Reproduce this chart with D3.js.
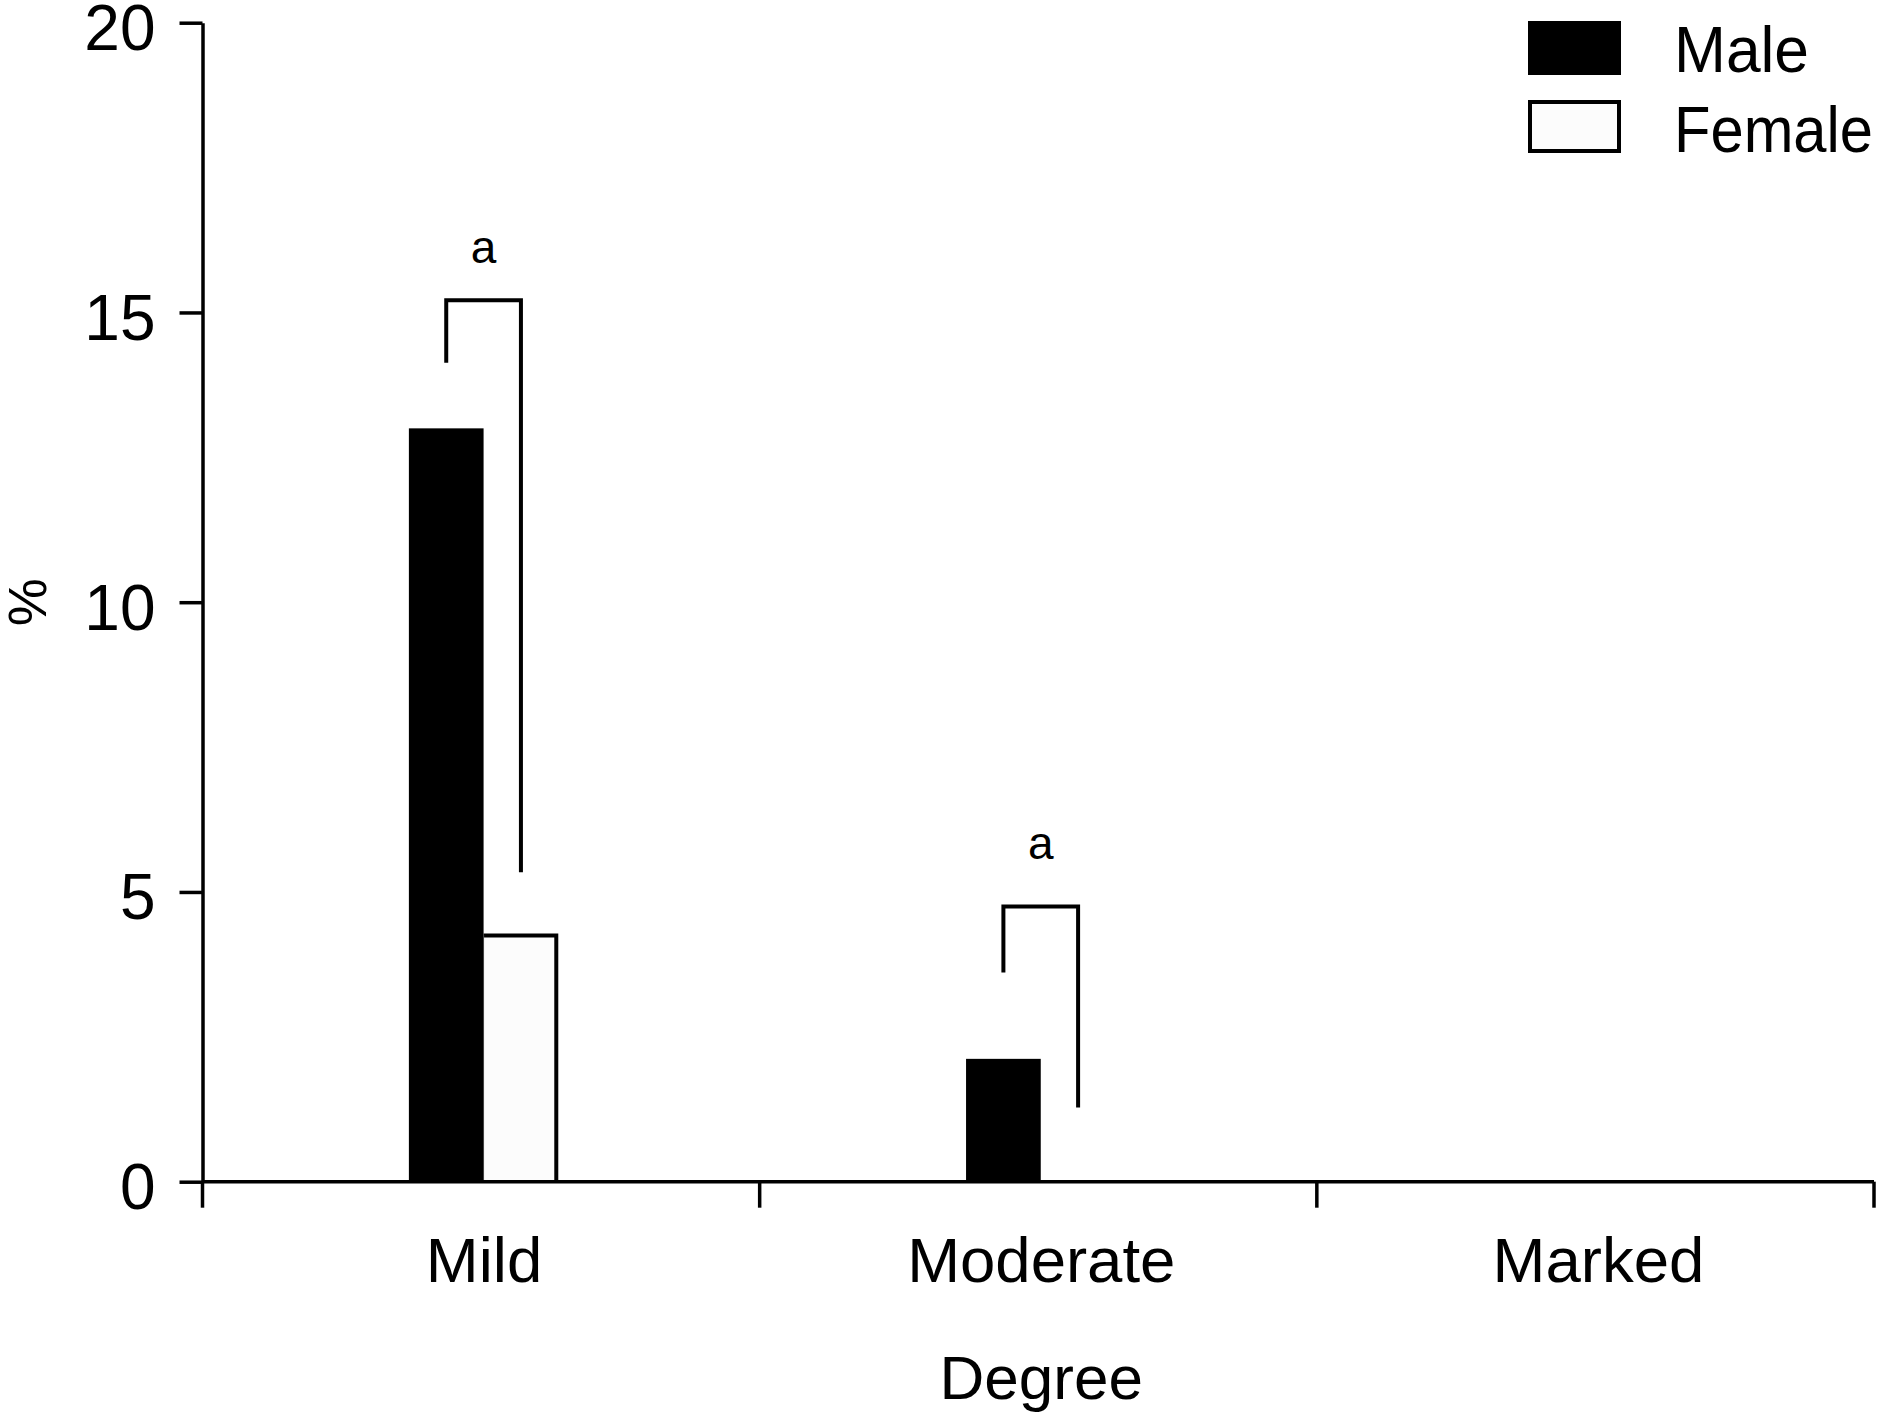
<!DOCTYPE html>
<html>
<head>
<meta charset="utf-8">
<script src="https://cdn.jsdelivr.net/npm/d3@7"></script>
<style>
  html, body { margin: 0; padding: 0; background: #fff; }
  svg { display: block; }
  text { font-family: "Liberation Sans", Arial, sans-serif; fill: #000; }
</style>
</head>
<body>
<svg id="chart" width="1878" height="1416"></svg>
<script>
// ---- data ----
const categories = ["Mild", "Moderate", "Marked"];
const series = ["Male", "Female"];
const maleValues = [13.0, 2.12, 0];
const femaleValues = [4.25, 0, 0];
const yTicks = [0, 5, 10, 15, 20];
const xTitle = "Degree";
const yTitle = "%";
// significance brackets (values in % units)
const sigCategories = ["Mild", "Moderate"];
const sigLabels = ["a", "a"];
const sigTop = [15.21, 4.75];
const sigLeftEnd = [14.13, 3.61];
const sigRightEnd = [5.34, 1.28];
const sigLabelPos = [15.86, 5.56];

// ---- layout ----
const svg = d3.select("#chart");
const x0 = 202.5, x1 = 1874, yTop = 22.7, yBot = 1181.7;

const x = d3.scaleBand().domain(categories).range([x0, x1]).paddingInner(0).paddingOuter(0);
const y = d3.scaleLinear().domain([0, 20]).range([yBot, yTop]);
const half = 74.7;
const shift = 2.5;
const xSub = d3.scaleBand().domain(series)
  .range([x.bandwidth() / 2 + shift - half, x.bandwidth() / 2 + shift + half]);

const valuesBy = { Male: maleValues, Female: femaleValues };
const fills = { Male: "#000000", Female: "#fcfcfc" };

// bars
const rows = categories.map((c, i) => ({ c, i }));
const groups = svg.append("g").selectAll("g").data(rows).join("g")
  .attr("transform", d => `translate(${x(d.c)},0)`);

// Female bars: fill + top/right outline
groups.filter(d => femaleValues[d.i] > 0).each(function(d) {
  const g = d3.select(this);
  const bx = xSub("Female"), bw = xSub.bandwidth();
  const ty = y(femaleValues[d.i]);
  g.append("rect").attr("x", bx).attr("y", ty).attr("width", bw).attr("height", y(0) - ty)
    .attr("fill", fills.Female);
  g.append("path")
    .attr("d", `M${bx},${ty}L${bx + bw - 2},${ty}L${bx + bw - 2},${y(0)}`)
    .attr("fill", "none").attr("stroke", "#000").attr("stroke-width", 4);
  g.append("line").attr("x1", bx).attr("x2", bx).attr("y1", ty).attr("y2", y(0))
    .attr("stroke", "#999").attr("stroke-width", 1);
});
// Male bars
groups.filter(d => maleValues[d.i] > 0).append("rect")
  .attr("x", xSub("Male"))
  .attr("y", d => y(maleValues[d.i]))
  .attr("width", xSub.bandwidth())
  .attr("height", d => y(0) - y(maleValues[d.i]))
  .attr("fill", fills.Male);

// y axis
const yAxis = d3.axisLeft(y).tickValues(yTicks).tickSize(23).tickSizeOuter(0).tickPadding(24);
const gy = svg.append("g").attr("transform", `translate(${x0},0)`).call(yAxis);
gy.select(".domain").attr("stroke-width", 3.5);
gy.selectAll(".tick line").attr("stroke-width", 3.5);
gy.selectAll(".tick text").attr("font-size", 64).attr("dy", "0.42em")
  .style("font-family", '"Liberation Sans", Arial, sans-serif');

// x axis (labels at band centres)
const xAxis = d3.axisBottom(x).tickSize(0).tickSizeOuter(0);
const gx = svg.append("g").attr("transform", `translate(0,${yBot})`).call(xAxis);
gx.select(".domain").remove();
gx.selectAll(".tick text").attr("font-size", 63.5).attr("y", 100).attr("dy", 0)
  .attr("dx", 3)
  .style("font-family", '"Liberation Sans", Arial, sans-serif');
// x axis line and boundary ticks
svg.append("line").attr("x1", x0).attr("x2", x1).attr("y1", yBot).attr("y2", yBot)
  .attr("stroke", "#000").attr("stroke-width", 3.5);
const bounds = categories.map(c => x(c)).concat([x.range()[1]]);
svg.append("g").selectAll("line").data(bounds).join("line")
  .attr("x1", d => d).attr("x2", d => d).attr("y1", yBot).attr("y2", yBot + 26)
  .attr("stroke", "#000").attr("stroke-width", 3.5);

// significance brackets
sigCategories.forEach((c, i) => {
  const lx = x(c) + xSub("Male") + xSub.bandwidth() / 2;
  const rx = x(c) + xSub("Female") + xSub.bandwidth() / 2;
  svg.append("path")
    .attr("d", `M${lx},${y(sigLeftEnd[i])}L${lx},${y(sigTop[i])}L${rx},${y(sigTop[i])}L${rx},${y(sigRightEnd[i])}`)
    .attr("fill", "none").attr("stroke", "#000").attr("stroke-width", 4);
  svg.append("text").attr("x", (lx + rx) / 2).attr("y", y(sigLabelPos[i]))
    .attr("text-anchor", "middle").attr("font-size", 46).text(sigLabels[i]);
});

// axis titles
svg.append("text").attr("x", (x0 + x1) / 2 + 3).attr("y", 1399).attr("text-anchor", "middle")
  .attr("font-size", 62).text(xTitle);
svg.append("text").attr("transform", `translate(46,${(yTop + yBot) / 2}) rotate(-90)`)
  .attr("text-anchor", "middle").attr("font-size", 54).text(yTitle);

// legend
const legend = svg.append("g");
const legendRows = series.map((s, i) => ({ s, i }));
legend.selectAll("rect").data(legendRows).join("rect")
  .attr("x", d => d.s === "Male" ? 1528 : 1530)
  .attr("y", d => d.s === "Male" ? 21 : 102)
  .attr("width", d => d.s === "Male" ? 93 : 89)
  .attr("height", d => d.s === "Male" ? 54 : 49)
  .attr("fill", d => fills[d.s])
  .attr("stroke", d => d.s === "Male" ? "none" : "#000")
  .attr("stroke-width", 4);
legend.selectAll("text").data(legendRows).join("text")
  .attr("x", 1674).attr("y", d => d.s === "Male" ? 72 : 152)
  .attr("font-size", 64)
  .attr("textLength", d => d.s === "Male" ? 135 : 199)
  .attr("lengthAdjust", "spacingAndGlyphs")
  .text(d => d.s);
</script>
</body>
</html>
